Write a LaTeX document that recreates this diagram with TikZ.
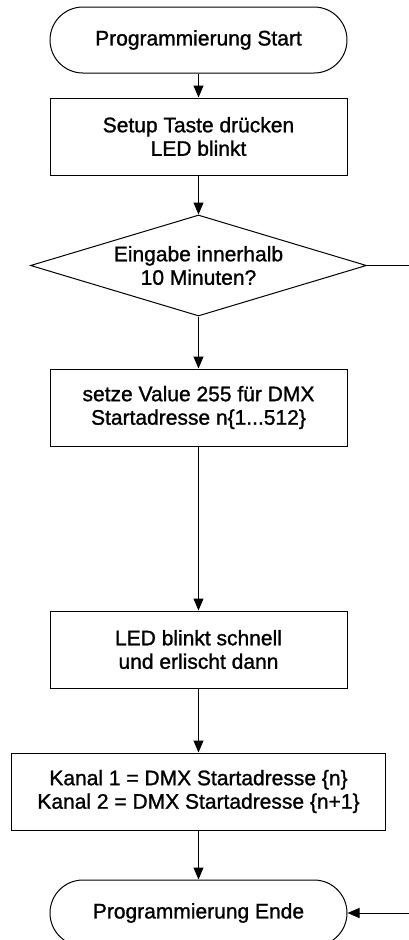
\documentclass[tikz,border=0pt]{standalone}
\usepackage{fontspec}
\setmainfont{Liberation Sans}
\newfontfamily\diafont{Liberation Sans}[FakeBold=1.2]
\usetikzlibrary{shapes.geometric,arrows.meta}
\begin{document}
\begin{tikzpicture}[x=1pt,y=-1pt,
  every node/.style={font=\diafont\fontsize{21}{23.5}\selectfont, align=center, line width=1pt},
  term/.style={draw, rectangle, rounded corners=33pt, minimum width=297pt, minimum height=66pt, inner sep=0pt},
  proc/.style={draw, rectangle, minimum width=297pt, minimum height=77pt, inner sep=0pt},
  dec/.style={draw, diamond, shape aspect=3.33, minimum width=336pt, minimum height=101pt, inner sep=0pt},
  arr/.style={line width=1pt, -{Triangle[length=12pt,width=10pt]}}]
\fill[white] (0,0) rectangle (408,940);
\useasboundingbox (0,0) rectangle (408,940);
\node[term] (start) at (198.5,40) {Programmierung Start};
\node[proc] (setup) at (198.5,136.5) {Setup Taste drücken\\LED blinkt};
\node[dec] (dec) at (198.5,265.5) {Eingabe innerhalb\\10 Minuten?};
\node[proc] (setze) at (198.5,407.5) {setze Value 255 für DMX\\Startadresse n\{1...512\}};
\node[proc] (led) at (198.5,649.5) {LED blinkt schnell\\und erlischt dann};
\node[proc, minimum width=374pt] (kanal) at (198.5,791.5) {Kanal 1 = DMX Startadresse \{n\}\\Kanal 2 = DMX Startadresse \{n+1\}};
\node[term] (ende) at (198.5,913) {Programmierung Ende};
\draw[arr] (start) -- (setup);
\draw[arr] (setup) -- (dec);
\draw[arr] (dec) -- (setze);
\draw[arr] (setze) -- (led);
\draw[arr] (led) -- (kanal);
\draw[arr] (kanal) -- (ende);
\draw[arr] (dec.east) -- ++(60,0) |- (ende.east);
\end{tikzpicture}
\end{document}
